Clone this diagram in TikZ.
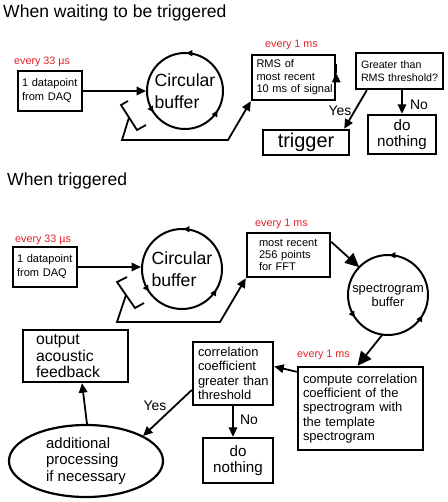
\documentclass[tikz,border=0pt]{standalone}
\usepackage{fontspec}
\setmainfont{Liberation Sans}
\usetikzlibrary{arrows.meta,shapes.geometric,calc}
\definecolor{redlbl}{RGB}{226,32,38}
\newcommand\setfs[2]{\fontsize{#1}{#2}\selectfont}
\begin{document}
\begin{tikzpicture}[x=1bp,y=-1bp,
  box/.style={draw, line width=2.4pt, inner ysep=0pt, align=left,
    execute at begin node={\hyphenpenalty=10000\exhyphenpenalty=10000}},
  ln/.style={line width=1.8pt},
  arr/.style={line width=1.8pt,-{Triangle[length=9.5bp,width=8.5bp]}},
  bigarr/.style={line width=1.8pt,-{Triangle[length=14bp,width=13bp]}},
  circarr/.style={line width=1.4pt,-{Triangle[length=6bp,width=6bp]}},
  lbl/.style={text=redlbl, font=\setfs{10.8}{12}, inner sep=0pt, anchor=base west},
  ttl/.style={font=\setfs{17.6}{20}, inner sep=0pt, anchor=base west},
  yn/.style={font=\setfs{14}{16}, inner sep=0pt},
  buf/.style={circle, draw, line width=2pt, inner sep=0pt, align=left, font=\setfs{17.7}{21.7}},
]
\useasboundingbox (0,0) rectangle (448,502);
% ---------- section 1 ----------
\node[ttl] (title1) at (3,18) {When waiting to be triggered};
\node[lbl] (red1) at (14,65) {every 33 µs};
\node[box, text width=56bp, inner xsep=4bp, minimum height=40bp, font=\setfs{11.1}{14}] (box1) at (50,91) {1~datapoint\\from~DAQ};
\node[buf, minimum size=76bp] (circ1) at (185,91) {Circular\\buffer};
\node[lbl] (red2) at (265,48) {every 1 ms};
\node[box, text width=74bp, inner xsep=4.5bp, minimum height=45bp, font=\setfs{11.1}{12.5}] (rms) at (293.5,77.5) {RMS~of\\most~recent\\10~ms~of~signal};
\node[box, text width=77bp, inner xsep=5bp, minimum height=36bp, font=\setfs{10.7}{12.7}] (gt) at (399.5,71) {Greater~than\\RMS~threshold?};
\node[box, text width=80bp, inner xsep=3bp, minimum height=25bp, align=center, font=\setfs{20}{22}] (trig) at (306,142.5) {trigger};
\node[box, text width=62bp, inner xsep=3bp, minimum height=39bp, align=center, font=\setfs{15.2}{16}] (dn1) at (402,134.5) {do\\nothing};
\node[yn] (yes1) at (340,111) {Yes};
\node[yn] (no1) at (419,105) {No};

\draw[arr] (box1) -- (circ1);
\foreach \a/\b in {-76/-88,157/146,42/31}
  \draw[circarr] ($(circ1)+(\a:38)$) arc[start angle=\a,end angle=\b,radius=38];
\coordinate (b1a) at (128,101);
\coordinate (b1b) at (121,105);
\coordinate (b1c) at (137,130);
\coordinate (b1d) at (146,125);
\draw[ln] (b1a) -- (b1b) -- (b1c) -- (b1d);
\coordinate (f1a) at (129,117.5);
\coordinate (f1b) at (122,140);
\coordinate (f1c) at (228,140);
\draw[arr] (f1a) -- (f1b) -- (f1c) -- (rms.south west);
\draw[arr] ($(rms.east)+(0,-4.5)$) -- ($(rms.east)+(0,-4.5)$ -| gt.west);
\draw[arr] ($(gt.south west)+(12,0)$) -- ($(trig.north east)+(-6,0)$);
\draw[arr] (dn1.north |- gt.south) -- (dn1.north);

% ---------- section 2 ----------
\node[ttl] (title2) at (7,186) {When triggered};
\node[lbl] (red3) at (15,242) {every 33 µs};
\node[box, text width=56bp, inner xsep=4bp, minimum height=40bp, font=\setfs{11.1}{14}] (box2) at (45,267) {1~datapoint\\from~DAQ};
\node[buf, minimum size=80bp] (circ2) at (182,269) {Circular\\buffer};
\node[lbl] (red4) at (255,226) {every 1 ms};
\node[box, text width=59bp, inner xsep=12bp, minimum height=44bp, font=\setfs{11.1}{12}] (fft) at (288.5,255) {most~recent\\256~points\\for~FFT};
\node[circle, draw, line width=2pt, inner sep=0pt, minimum size=80bp, align=center, font=\setfs{12.9}{14}] (spec) at (388,295) {spectrogram\\buffer};
\node[lbl] (red5) at (297,357) {every 1 ms};
\node[box, text width=115bp, inner xsep=5bp, minimum height=83bp, font=\setfs{13}{14.3}] (comp) at (360.5,408.5) {compute~correlation\\coefficient~of~the\\spectrogram~with\\the~template\\spectrogram};
\node[box, text width=70bp, inner xsep=5bp, minimum height=63bp, font=\setfs{13}{14.4}] (corr) at (233,373.5) {correlation\\coefficient\\greater~than\\threshold};
\node[box, text width=64bp, inner xsep=3bp, minimum height=45bp, align=center, font=\setfs{15.2}{16}] (dn2) at (238,460.5) {do\\nothing};
\node[ellipse, draw, line width=2.2pt, inner sep=0pt, minimum width=154bp, minimum height=72bp, align=left, font=\setfs{15}{16.3}] (ell) at (86,461) {additional\\processing\\if necessary};
\node[box, text width=79bp, inner xsep=13bp, minimum height=52bp, font=\setfs{15.8}{17}] (out) at (75.5,356) {output\\acoustic\\feedback};
\node[yn] (yes2) at (155,406) {Yes};
\node[yn] (no2) at (249,420) {No};

\draw[arr] (box2.east) -- (box2.east -| circ2.west);
\foreach \a/\b in {-76/-88,157/146,42/31}
  \draw[circarr] ($(circ2)+(\a:40)$) arc[start angle=\a,end angle=\b,radius=40];
\foreach \a/\b in {-76/-88,157/146,42/31}
  \draw[circarr] ($(spec)+(\a:40)$) arc[start angle=\a,end angle=\b,radius=40];
\coordinate (b2a) at (127,277);
\coordinate (b2b) at (117,282);
\coordinate (b2c) at (135,308);
\coordinate (b2d) at (144,303);
\draw[ln] (b2a) -- (b2b) -- (b2c) -- (b2d);
\coordinate (f2a) at (126,295);
\coordinate (f2b) at (117,322);
\coordinate (f2c) at (220,322);
\draw[arr] (f2a) -- (f2b) -- (f2c) -- (fft.south west);
\draw[bigarr] ($(fft.north east)+(0,10)$) -- ($(spec)+(-136:40)$);
\draw[bigarr] ($(spec)+(98:40)$) -- ($(comp.north)+(-3,0)$);
\draw[arr] ($(comp.north west)+(0,6)$) -- ($(corr.east)+(0,-7)$);
\draw[arr] (corr.south) -- (corr.south |- dn2.north);
\draw[arr] ($(corr.west)+(0,16.5)$) -- (143,436);
\draw[arr] ($(ell.north)+(1,0)$) -- ($(out.south)+(6.5,0)$);
\end{tikzpicture}
\end{document}
